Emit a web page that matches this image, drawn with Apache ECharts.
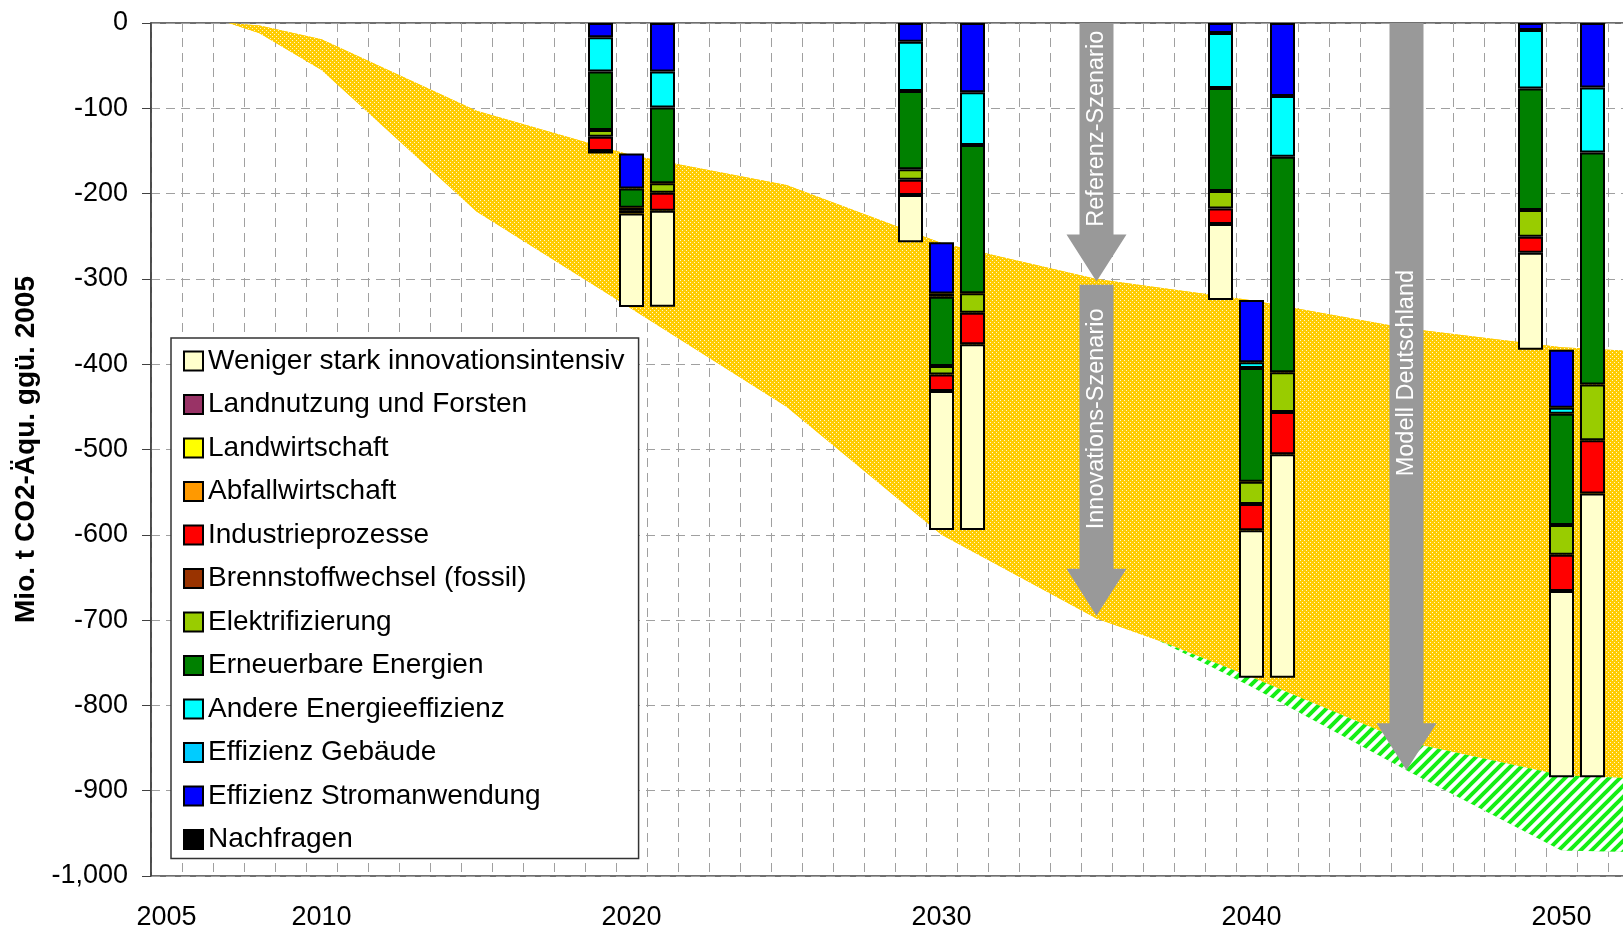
<!DOCTYPE html>
<html><head><meta charset="utf-8">
<script src="https://cdn.jsdelivr.net/npm/echarts@6/dist/echarts.min.js"></script>
<style>html,body{margin:0;padding:0;background:#fff}#c{width:1623px;height:931px}</style>
</head><body><div id="c"></div>
<script>
// ---------- DATA ----------
const categories = [];
for (let y = 2005; y <= 2052; y++) categories.push(String(y));
const xTickLabels = ['2005', '2010', '2020', '2030', '2040', '2050'];
const yAxisTitle = 'Mio. t CO2-Äqu. ggü. 2005';

// bar columns: for each target year three bars (Referenz, Zusatz Innovation, Innovation gesamt)
const barYears = ['2019','2020','2021','2029','2030','2031','2039','2040','2041','2049','2050','2051'];
const waterfall = [false,true,false,false,true,false,false,true,false,false,true,false];

const nachfragen       = [0,0,0,0,0,0,0,0,0,0,0,0];
const effStrom         = [-16.8,-41,-57,-21.9,-59.9,-81.3,-11.6,-72.9,-85.7,-8.1,-67.9,-75.7];
const effGebaeude      = [0,0,0,0,0,0,0,0,0,0,0,0];
const andereEff        = [-40.2,0,-42.2,-57.8,-3.9,-61.7,-64.7,-6.9,-71.1,-68.8,-7,-76.2];
const erneuerbare      = [-68.4,-22.7,-88.8,-91.9,-81.2,-173.9,-120.7,-133.1,-252.5,-142.2,-130.4,-272];
const elektrifizierung = [-7.9,0,-10.9,-12.1,-9.9,-22.7,-20.4,-26.2,-46.7,-31.6,-35,-65.3];
const brennstoff       = [0,-2.7,0,0,0,0,0,0,0,0,0,0];
const industrie        = [-16.7,-3.8,-21.1,-17.9,-19.5,-37,-18.1,-30.9,-49.6,-18.7,-42.6,-62.4];
const abfall           = [0,0,0,0,0,0,0,0,0,0,0,0];
const landwirtschaft   = [0,0,0,0,0,0,0,0,0,0,0,0];
const landnutzung      = [0,0,0,0,0,0,0,0,0,0,0,0];
const wenigerStark     = [-3,-109.6,-112.6,-55.5,-163,-217.8,-89.3,-172.7,-261.9,-113.7,-218.2,-332.6];

// scenario curves
const areaYears  = [2007, 2008, 2010, 2015, 2020, 2025, 2030, 2035, 2037, 2040, 2045, 2050, 2052.5];
const referenz   = [0, -3, -19, -103, -155, -190, -258, -300, -310, -325, -358, -380, -385];
const innovation = [0, -12, -55, -221, -335, -450, -600, -698, -724, -767, -843, -882, -886];
const modellD    = [0, -12, -55, -221, -335, -450, -600, -698, -724, -778, -876, -970, -972];

// arrows
const arrowLabels = ['Referenz-Szenario', 'Innovations-Szenario', 'Modell Deutschland'];
const arrowX      = [2035, 2035, 2045];
const arrowFrom   = [0, -307, 0];
const arrowTo     = [-303, -695, -876];

// ---------- BUILD ----------
const FONT = 'Liberation Sans, Arial, sans-serif';
const arrowTextShift = [0, -8, 0];
const segments = [
  {name: 'Nachfragen', color: '#000000', values: nachfragen},
  {name: 'Effizienz Stromanwendung', color: '#0000FF', values: effStrom},
  {name: 'Effizienz Gebäude', color: '#00CCFF', values: effGebaeude},
  {name: 'Andere Energieeffizienz', color: '#00FFFF', values: andereEff},
  {name: 'Erneuerbare Energien', color: '#008000', values: erneuerbare},
  {name: 'Elektrifizierung', color: '#99CC00', values: elektrifizierung},
  {name: 'Brennstoffwechsel (fossil)', color: '#993300', values: brennstoff},
  {name: 'Industrieprozesse', color: '#FF0000', values: industrie},
  {name: 'Abfallwirtschaft', color: '#FF9900', values: abfall},
  {name: 'Landwirtschaft', color: '#FFFF00', values: landwirtschaft},
  {name: 'Landnutzung und Forsten', color: '#993366', values: landnutzung},
  {name: 'Weniger stark innovationsintensiv', color: '#FFFFCC', values: wenigerStark}
];
function barTotal(i) { return segments.reduce((s, g) => s + g.values[i], 0); }
const baseValues = barYears.map((y, i) => waterfall[i] ? barTotal(i - 1) : null);

function toCat(vals) {
  return categories.map(c => {
    const i = barYears.indexOf(c);
    if (i < 0) return null;
    const v = vals[i];
    return (v === null || v === 0) ? null : v;
  });
}

// patterns
const dotC = document.createElement('canvas'); dotC.width = 4; dotC.height = 4;
(function () { const g = dotC.getContext('2d'); g.fillStyle = '#FFCC00'; g.fillRect(0, 0, 4, 4);
  g.fillStyle = 'rgba(255,255,255,0.8)'; g.fillRect(0, 0, 1, 1); g.fillRect(2, 2, 1, 1); })();
const hatchC = document.createElement('canvas'); hatchC.width = 11; hatchC.height = 11;
(function () { const g = hatchC.getContext('2d'); g.fillStyle = '#fff'; g.fillRect(0, 0, 11, 11);
  g.strokeStyle = '#14ee14'; g.lineWidth = 4; g.beginPath();
  g.moveTo(-2, 13); g.lineTo(13, -2); g.moveTo(-8, 8); g.lineTo(8, -8); g.moveTo(3, 19); g.lineTo(19, 3);
  g.stroke(); })();

const bands = [
  {upper: referenz, lower: innovation, pattern: dotC, fallback: '#FFD21E'},
  {upper: innovation, lower: modellD, pattern: hatchC, fallback: '#9BF59B'}
];

const series = [];
// scenario bands drawn as polygons through the axes
series.push({type: 'custom', xAxisIndex: 1, yAxisIndex: 0, z: 1, silent: true, clip: true,
  encode: {x: 0, y: 1},
  data: [[2030, -400, 0], [2045, -900, 1]],
  renderItem: function (params, api) {
    const b = bands[api.value(2)];
    const pts = [];
    areaYears.forEach((x, i) => pts.push(api.coord([x, b.upper[i]])));
    for (let i = areaYears.length - 1; i >= 0; i--) pts.push(api.coord([areaYears[i], b.lower[i]]));
    return {type: 'group', children: [
      {type: 'polygon', shape: {points: pts}, style: {fill: b.fallback}},
      {type: 'polygon', shape: {points: pts}, style: {fill: {image: b.pattern, repeat: 'repeat'}}}
    ]};
  }
});

// bars
series.push({type: 'bar', name: '_base', stack: 'bars', barWidth: 25, silent: true, z: 2,
  itemStyle: {color: 'rgba(0,0,0,0)', borderWidth: 0}, data: toCat(baseValues)});
segments.forEach(s => {
  series.push({type: 'bar', name: s.name, stack: 'bars', barWidth: 25, z: 2,
    itemStyle: {color: s.color, borderColor: '#000', borderWidth: 2},
    data: toCat(s.values)});
});

// arrows
series.push({type: 'custom', xAxisIndex: 1, yAxisIndex: 0, z: 3, silent: true,
  encode: {x: 0, y: [1, 2]},
  data: arrowX.map((x, i) => [x, arrowFrom[i], arrowTo[i]]),
  renderItem: function (params, api) {
    const p1 = api.coord([api.value(0), api.value(1)]);
    const p2 = api.coord([api.value(0), api.value(2)]);
    const cx = p1[0], top = p1[1], tip = p2[1];
    const hs = 17, hh = 30, hl = 47, neck = tip - hl;
    return {type: 'group', children: [
      {type: 'polygon', shape: {points: [[cx - hs, top], [cx + hs, top], [cx + hs, neck], [cx + hh, neck], [cx, tip], [cx - hh, neck], [cx - hs, neck]]},
        style: {fill: '#999999'}},
      {type: 'text', x: cx, y: (top + neck) / 2 + arrowTextShift[params.dataIndex], rotation: Math.PI / 2,
        style: {text: arrowLabels[params.dataIndex], fill: '#ffffff', fontSize: 23.5, fontFamily: FONT, align: 'center', verticalAlign: 'middle'}}
    ]};
  }
});

const gridLine = {show: true, lineStyle: {color: '#a0a0a0', width: 1, type: [9, 6]}};
const option = {
  animation: false,
  backgroundColor: '#fff',
  grid: {left: 151, top: 23, width: 1488, bottom: 55, outerBoundsMode: 'none', containLabel: false,
    show: true, borderColor: '#404040', borderWidth: 1.5, backgroundColor: 'transparent'},
  legend: {
    data: segments.map(s => s.name).reverse(), orient: 'vertical', left: 171, top: 338, height: 560,
    itemWidth: 19, itemHeight: 19, itemGap: 15.5, padding: [9, 14, 5, 12],
    backgroundColor: '#fff', borderColor: '#333', borderWidth: 1.5, icon: 'rect', selectedMode: false,
    textStyle: {fontSize: 28, fontFamily: FONT, color: '#000'}
  },
  xAxis: [
    {type: 'category', data: categories, position: 'bottom', boundaryGap: true,
      axisLine: {show: false, onZero: false}, axisTick: {show: false},
      axisLabel: {interval: (i, v) => xTickLabels.indexOf(v) >= 0, fontSize: 27, fontFamily: FONT, color: '#000', margin: 28},
      splitLine: Object.assign({interval: 0}, gridLine)},
    {type: 'value', min: 2004.5, max: 2052.5, show: false, position: 'top'}
  ],
  yAxis: {type: 'value', min: -1000, max: 0, interval: 100,
    name: yAxisTitle, nameLocation: 'middle', nameGap: 101,
    nameTextStyle: {fontSize: 28, fontWeight: 'bold', fontFamily: FONT, color: '#000'},
    axisLine: {show: true, lineStyle: {color: '#404040', width: 1.5}},
    axisTick: {show: true, length: 9, lineStyle: {color: '#404040'}},
    axisLabel: {fontSize: 27, fontFamily: FONT, color: '#000', margin: 23,
      formatter: v => v.toLocaleString('en-US')},
    splitLine: gridLine},
  series: series
};
const chart = echarts.init(document.getElementById('c'), null, {renderer: 'canvas'});
chart.setOption(option);
</script></body></html>
